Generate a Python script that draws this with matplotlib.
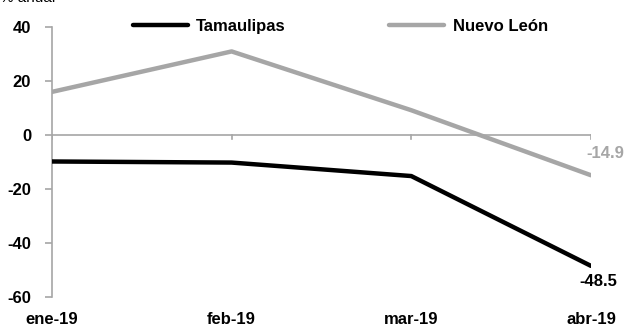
import matplotlib.pyplot as plt

months = ['ene-19', 'feb-19', 'mar-19', 'abr-19']
tamaulipas = [-9.8, -10.2, -15.2, -48.5]
nuevo_leon = [16.0, 31.0, 9.2, -14.9]
yticks = [-60, -40, -20, 0, 20, 40]

plt.rcParams['font.family'] = ['Liberation Sans', 'DejaVu Sans']
plt.rcParams['font.size'] = 12

gray = '#a6a6a6'
fig = plt.figure(figsize=(6.26, 3.31), dpi=100)
ax = fig.add_axes([0.083, 0.103, 0.861, 0.815])

x = range(len(months))
ax.plot(x, tamaulipas, color='black', lw=3.2, solid_capstyle='round', label='Tamaulipas', zorder=3)
ax.plot(x, nuevo_leon, color=gray, lw=3.2, solid_capstyle='round', label='Nuevo León', zorder=3)

ax.set_xlim(0, len(months) - 1)
ax.set_ylim(-60, 40)
ax.set_yticks(yticks)
ax.set_yticklabels([str(v) for v in yticks], fontweight='bold')
ax.set_xticks([])

for s in ['top', 'right', 'bottom']:
    ax.spines[s].set_visible(False)
ax.spines['left'].set_color(gray)
ax.spines['left'].set_linewidth(1.2)
ax.tick_params(axis='y', color=gray, width=1.2, length=5, pad=10)

# zero line with downward ticks at categories
ax.axhline(0, color=gray, lw=1.2, zorder=1)
for i in x:
    ax.plot([i, i], [0, -1.6], color=gray, lw=1.2, zorder=1)

for i, m in enumerate(months):
    ax.annotate(m, (i, -60), xytext=(0, -11), textcoords='offset points',
                ha='center', va='top', fontweight='bold', annotation_clip=False)

ax.annotate(f'{tamaulipas[-1]:.1f}', (3, tamaulipas[-1]), xytext=(5, -6),
            textcoords='offset points', ha='center', va='top', fontweight='bold')
ax.annotate(f'{nuevo_leon[-1]:.1f}', (3, nuevo_leon[-1]), xytext=(10, 10),
            textcoords='offset points', ha='center', va='bottom', color=gray, fontweight='bold',
            annotation_clip=False)

fig.text(0.0, 1.005, '% anual', ha='left', va='center', fontsize=11)

leg = ax.legend(loc='upper center', bbox_to_anchor=(0.535, 1.085), ncol=2, frameon=False,
                handlelength=3.3, handletextpad=0.5, columnspacing=6.2,
                prop={'weight': 'bold', 'size': 12})

fig.savefig('out.png', dpi=100)
